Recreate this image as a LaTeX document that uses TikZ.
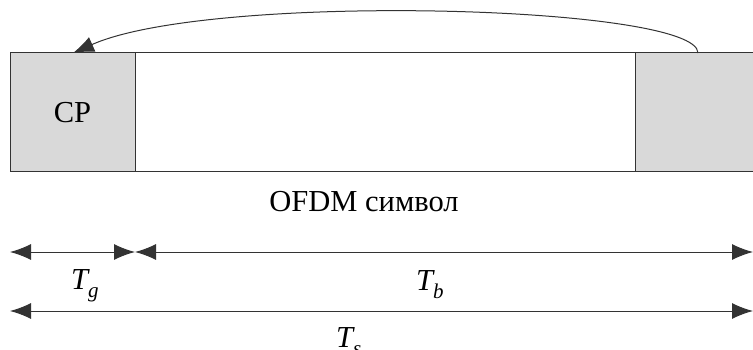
\documentclass[tikz,border=0pt]{standalone}
\usepackage{fontspec}
\setmainfont{Liberation Serif}
\usetikzlibrary{arrows.meta}
\definecolor{linegray}{HTML}{333333}
\definecolor{boxgray}{HTML}{D9D9D9}
\newcommand{\tsub}[2]{{\itshape #1}\raisebox{-8pt}{\fontsize{21}{21}\selectfont\itshape #2}}
\tikzset{
  seg/.style={draw=linegray, line width=1pt, minimum height=119pt, inner sep=0pt, outer sep=0pt, anchor=north west},
  grayseg/.style={seg, fill=boxgray},
  lbl/.style={font=\fontsize{30.5}{33}\selectfont, inner sep=0pt},
  tip/.style={Latex[length=21pt,width=16pt]},
  dim/.style={draw=linegray, line width=1pt, {Latex[length=21pt,width=16pt]}-{Latex[length=21pt,width=16pt]}},
  arc/.style={draw=linegray, line width=1pt, -{Latex[length=21pt,width=16pt]}}
}
\begin{document}
\begin{tikzpicture}[x=1pt,y=-1pt]
\useasboundingbox (0,0) rectangle (753,350);
\clip (0,0) rectangle (753,350);
\node[grayseg, minimum width=125pt] (cp) at (10,53) {};
\node[seg, minimum width=500pt] (body) at (135,53) {};
\node[grayseg, minimum width=130pt] (tail) at (635,53) {};
\node[lbl] at (cp.center) {CP};
\node[lbl] (sym) at (364,202) {OFDM символ};
\coordinate (arcstart) at (698,53);
\coordinate (arcend) at (73,53);
\draw[arc] (arcstart) .. controls (698,5) and (210,-8) .. (arcend);
\coordinate (r1a) at (10,252);
\coordinate (r1b) at (135,252);
\coordinate (r1c) at (753,252);
\coordinate (r2a) at (10,311);
\coordinate (r2b) at (753,311);
\draw[dim] (r1a) -- (r1b);
\draw[dim] (r1b) -- (r1c);
\draw[dim] (r2a) -- (r2b);
\node[lbl, anchor=base west] (tg) at (71,289) {\tsub{T}{g}};
\node[lbl, anchor=base west] (tb) at (416,290) {\tsub{T}{b}};
\node[lbl, anchor=base west] (ts) at (336,347) {\tsub{T}{s}};
\end{tikzpicture}
\end{document}
